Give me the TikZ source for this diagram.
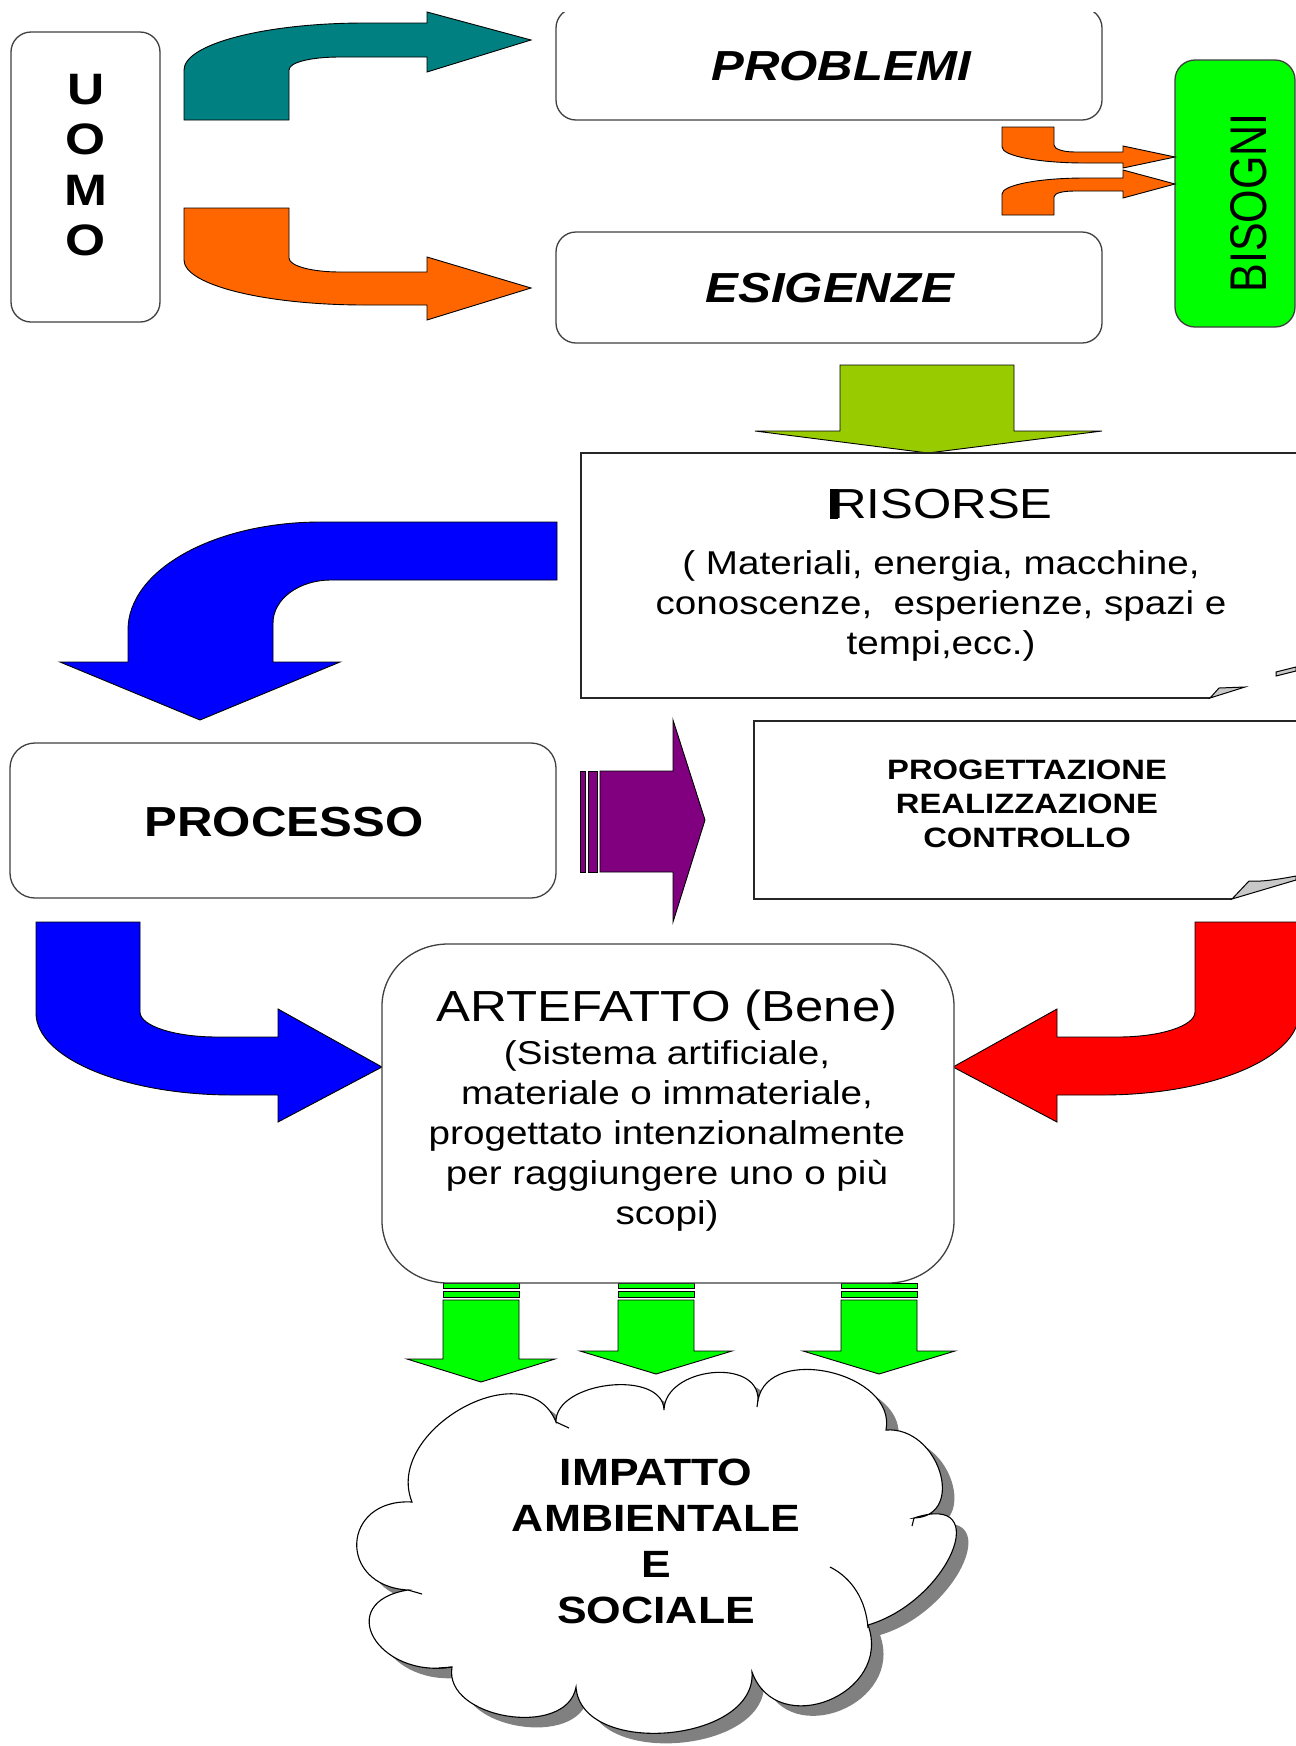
\documentclass[tikz,border=0pt]{standalone}
\usepackage{fontspec}
\setmainfont{Liberation Sans}[FakeStretch=1.17]
\newfontfamily\plainsans{Liberation Sans}
\definecolor{tealc}{HTML}{008080}
\definecolor{orangec}{HTML}{FF6600}
\definecolor{limec}{HTML}{00FF00}
\definecolor{olivec}{HTML}{99CC00}
\definecolor{bluec}{HTML}{0000FF}
\definecolor{purplec}{HTML}{800080}
\definecolor{redc}{HTML}{FF0000}
\definecolor{foldc}{HTML}{C8C8C8}
\definecolor{shadowc}{HTML}{808080}
\begin{document}
\begin{tikzpicture}[x=1pt,y=-1pt,
  box/.style={draw=black!75, line width=1.3pt, fill=white},
  sheet/.style={draw=black!85, line width=1.3pt},
  blockarrow/.style={draw=black, line width=0.9pt, line join=miter},
  txt/.style={inner sep=0pt, align=center, text=black},
  cloudpath/.style={insert path={
    (408,1590) .. controls (337,1586) and (341,1498) .. (412,1502)
    .. controls (383,1430) and (527,1350) .. (556,1422)
    .. controls (555,1381) and (663,1369) .. (664,1410)
    .. controls (665,1367) and (759,1357) .. (758,1400)
    .. controls (769,1343) and (897,1373) .. (886,1430)
    .. controls (939,1426) and (967,1516) .. (914,1518)
    .. controls (995,1491) and (949,1601) .. (868,1625)
    .. controls (893,1694) and (777,1741) .. (752,1672)
    .. controls (757,1743) and (581,1758) .. (576,1687)
    .. controls (567,1739) and (443,1719) .. (452,1667)
    .. controls (377,1679) and (333,1602) .. (408,1590) -- cycle}},
]
\useasboundingbox (0,0) rectangle (1296,1746);
\fill[white] (0,0) rectangle (1296,1746);

% ---------- top row: UOMO, PROBLEMI, ESIGENZE, BISOGNI ----------
\draw[box, rounded corners=20pt] (11,32) rectangle (160,322);
\node[txt, font=\bfseries\fontsize{44}{50.5}\selectfont] (uomo) at (86,165) {U\\O\\M\\O};

\begin{scope}
  \clip (0,12) rectangle (1296,1746);
  \draw[box, rounded corners=20pt] (556,8) rectangle (1102,120);
\end{scope}
\node[txt, font=\bfseries\itshape\fontsize{42}{50}\selectfont] (problemi) at (841,66) {PROBLEMI};

\draw[box, rounded corners=20pt] (556,232) rectangle (1102,343);
\node[txt, font=\bfseries\itshape\fontsize{42}{50}\selectfont] (esigenze) at (830,288) {ESIGENZE};

\draw[box, fill=limec, rounded corners=20pt] (1175,60) rectangle (1295,327);
\node[txt, rotate=90, font=\plainsans\fontsize{43}{50}\selectfont] (bisogni) at (1249,203) {\scalebox{1}[1.2]{BISOGNI}};

% teal arrow towards PROBLEMI
\draw[blockarrow, fill=tealc] (184,120) -- (184,70)
  .. controls (184,44) and (265,23) .. (365,23) -- (427,23) -- (427,12) -- (531,40)
  -- (427,72) -- (427,57) -- (340,57)
  .. controls (312,57) and (289,62) .. (289,70) -- (289,120) -- cycle;

% orange arrow towards ESIGENZE
\draw[blockarrow, fill=orangec] (184,208) -- (184,260)
  .. controls (184,285) and (265,305) .. (365,305) -- (427,305) -- (427,320) -- (531,288)
  -- (427,257) -- (427,272) -- (340,272)
  .. controls (312,272) and (289,266) .. (289,258) -- (289,208) -- cycle;

% two small orange arrows towards BISOGNI
\draw[blockarrow, fill=orangec] (1002,127) -- (1002,147)
  .. controls (1002,156) and (1039,163) .. (1085,163) -- (1123,163) -- (1123,168) -- (1175,157)
  -- (1123,146) -- (1123,152) -- (1075,152)
  .. controls (1063,152) and (1054,149) .. (1054,145) -- (1054,127) -- cycle;
\draw[blockarrow, fill=orangec] (1002,215) -- (1002,194)
  .. controls (1002,185) and (1039,178) .. (1085,178) -- (1123,178) -- (1123,170) -- (1175,184)
  -- (1123,198) -- (1123,191) -- (1075,191)
  .. controls (1063,191) and (1054,193) .. (1054,197) -- (1054,215) -- cycle;

% ---------- RISORSE ----------
\draw[blockarrow, fill=olivec] (840,365) -- (1014,365) -- (1014,431) -- (1102,431)
  -- (928,453) -- (755,431) -- (840,431) -- cycle;

\fill[white] (581,453) rectangle (1300,698);
\draw[sheet] (1300,453) -- (581,453) -- (581,698) -- (1210,698);
\draw[line width=1pt, fill=foldc] (1210,698) -- (1219,688) -- (1245,687) -- cycle;
\draw[line width=1pt, fill=foldc] (1276,672) -- (1296,667) -- (1296,671) -- (1276,676) -- cycle;
\node[txt, font=\fontsize{42}{50}\selectfont] (risorse) at (942,504)
  {\rlap{\kern-0.04em\rule{0.2em}{0.716em}}RISORSE};
\node[txt, font=\fontsize{33}{40}\selectfont] (risorsedesc) at (941,606)
  {( Materiali, energia, macchine,\\conoscenze,\ \ esperienze, spazi e\\tempi,ecc.)};

% blue arrow from RISORSE down to PROCESSO
\draw[blockarrow, fill=bluec] (557,522) -- (321,522)
  .. controls (214,522) and (128,570) .. (128,630) -- (128,662) -- (60,662) -- (200,720)
  -- (340,662) -- (273,662) -- (273,623)
  .. controls (273,599) and (299,580) .. (331,580) -- (557,580) -- cycle;

% ---------- PROCESSO ----------
\draw[box, rounded corners=25pt] (10,743) rectangle (556,898);
\node[txt, font=\bfseries\fontsize{42}{50}\selectfont] (processo) at (284,822) {PROCESSO};

% purple striped arrow
\draw[blockarrow, fill=purplec] (580,771) rectangle (585,872);
\draw[blockarrow, fill=purplec] (588,771) rectangle (597,872);
\draw[blockarrow, fill=purplec] (600,771) -- (673,771) -- (673,720) -- (705,820)
  -- (673,922) -- (673,872) -- (600,872) -- cycle;

% PROGETTAZIONE sheet
\fill[white] (754,721) rectangle (1300,899);
\draw[sheet] (1300,721) -- (754,721) -- (754,899) -- (1232,899);
\draw[line width=1pt, fill=foldc] (1232,899) -- (1249,881)
  .. controls (1262,882) and (1280,879) .. (1296,876) -- (1296,880) -- cycle;
\node[txt, font=\bfseries\fontsize{28}{34}\selectfont] (fasi) at (1027,804)
  {PROGETTAZIONE\\REALIZZAZIONE\\CONTROLLO};

% ---------- ARTEFATTO ----------
\draw[blockarrow, fill=bluec] (36,922) -- (140,922) -- (140,1012)
  .. controls (140,1026) and (175,1037) .. (217,1037) -- (278,1037) -- (278,1009) -- (382,1067)
  -- (278,1122) -- (278,1095) -- (233,1095)
  .. controls (124,1095) and (36,1058) .. (36,1013) -- cycle;

\draw[blockarrow, fill=redc] (1299,922) -- (1195,922) -- (1195,1012)
  .. controls (1195,1026) and (1160,1037) .. (1118,1037) -- (1057,1037) -- (1057,1009) -- (953,1067)
  -- (1057,1122) -- (1057,1095) -- (1102,1095)
  .. controls (1211,1095) and (1299,1058) .. (1299,1013) -- cycle;

% green arrows under the artefact
\foreach \sx/\hy/\hx in {443/1359/407, 618/1351/580, 841/1351/803} {
  \draw[blockarrow, fill=limec] (\sx,1283) rectangle ({\sx+76},1288);
  \draw[blockarrow, fill=limec] (\sx,1291) rectangle ({\sx+76},1297);
  \draw[blockarrow, fill=limec] (\sx,1300) -- ({\sx+76},1300) -- ({\sx+76},\hy)
    -- ({2*\sx+76-\hx},\hy) -- ({\sx+38},{\hy+23}) -- (\hx,\hy) -- (\sx,\hy) -- cycle;
}

\draw[box] (448,944) -- (888,944) arc[start angle=-90, end angle=0, x radius=66, y radius=62]
  -- (954,1221) arc[start angle=0, end angle=90, x radius=66, y radius=62]
  -- (448,1283) arc[start angle=90, end angle=180, x radius=66, y radius=62]
  -- (382,1006) arc[start angle=180, end angle=270, x radius=66, y radius=62] -- cycle;
\node[txt, font=\fontsize{43.5}{50}\selectfont] (artefatto) at (667,1010) {ARTEFATTO (Bene)};
\node[txt, font=\fontsize{33}{40.2}\selectfont] (artefattodesc) at (667,1136)
  {(Sistema artificiale,\\materiale o immateriale,\\progettato intenzionalmente\\per raggiungere uno o più\\scopi)};

% ---------- cloud ----------
\fill[shadowc, shift={(12,10)}, cloudpath];
\draw[fill=white, draw=black, line width=1.1pt, cloudpath];
\draw[line width=1.1pt] (868,1628) .. controls (866,1600) and (852,1578) .. (830,1567);
\draw[line width=1.1pt] (556,1422) -- (569,1428);
\draw[line width=1.1pt] (914,1518) -- (912,1526);
\draw[line width=1.1pt] (408,1590) -- (422,1594);
\draw[line width=1.1pt] (452,1667) -- (439,1668);
\draw[line width=1.1pt] (758,1400) -- (757,1407);
\node[txt, font=\bfseries\fontsize{38}{46}\selectfont] (impatto) at (656,1541)
  {IMPATTO\\AMBIENTALE\\E\\SOCIALE};
\end{tikzpicture}
\end{document}
